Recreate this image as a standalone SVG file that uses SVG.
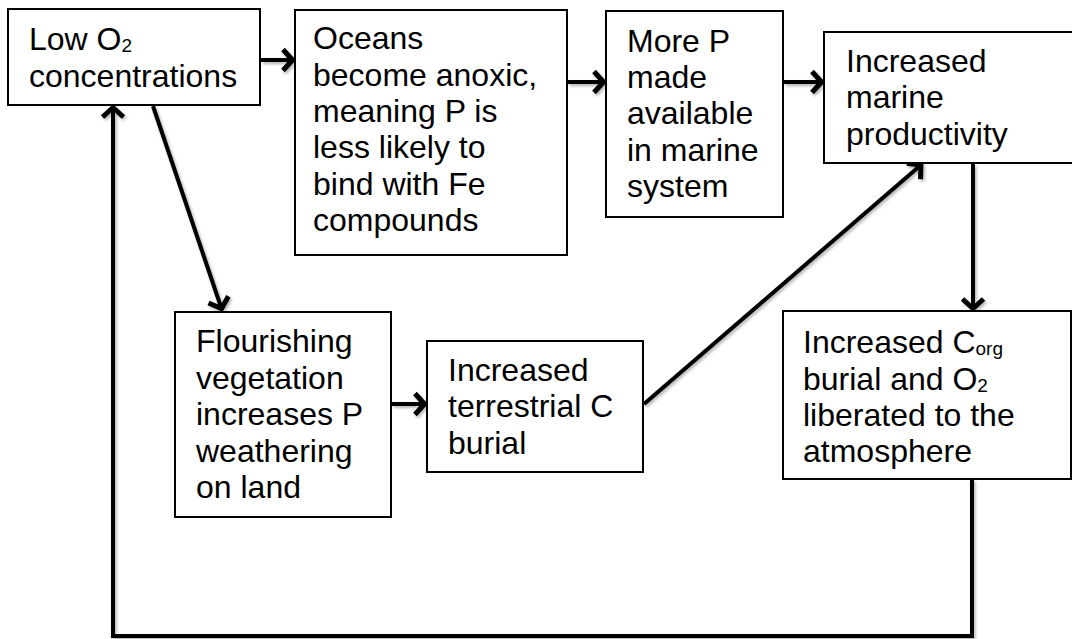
<svg xmlns="http://www.w3.org/2000/svg" width="1072" height="639" viewBox="0 0 1072 639">
<style>
.box{fill:#fff;stroke:#000;stroke-width:2}
.t{font-family:"Liberation Sans",Arial,sans-serif;font-size:32px;fill:#000}
.sub{font-size:19px}
.c{fill:none;stroke:#000;stroke-width:4;marker-end:url(#ah)}
</style>
<defs>
<filter id="sh" filterUnits="userSpaceOnUse" x="0" y="0" width="1072" height="639">
<feDropShadow dx="1.5" dy="2" stdDeviation="1.5" flood-color="#000" flood-opacity="0.3"/>
</filter>
<marker id="ah" markerUnits="userSpaceOnUse" viewBox="-16 -16 32 32" refX="0" refY="0" markerWidth="32" markerHeight="32" orient="auto" overflow="visible">
<path d="M-11,-10.5 L-1.5,0 L-11,10.5" fill="none" stroke="#000" stroke-width="5" stroke-linejoin="miter"/>
</marker>
</defs>
<rect width="1072" height="639" fill="#fff"/>
<g id="connectors" filter="url(#sh)">
<line class="c" x1="261" y1="60" x2="294" y2="60"/>
<line class="c" x1="568" y1="82" x2="605" y2="82"/>
<line class="c" x1="784" y1="82" x2="823" y2="82"/>
<line class="c" x1="973" y1="164" x2="973" y2="310"/>
<line class="c" x1="153" y1="106" x2="222" y2="310"/>
<line class="c" x1="392" y1="404" x2="426" y2="404"/>
<line class="c" x1="644" y1="404" x2="922" y2="164"/>
<path class="c" d="M972,480 L972,636 L113,636 L113,106"/>
</g>
<g id="n1"><rect class="box" x="8" y="9" width="252" height="96"/>
<text class="t" x="29" y="50">Low O<tspan class="sub" dy="2">2</tspan></text>
<text class="t" x="29" y="87">concentrations</text></g>
<g id="n2"><rect class="box" x="295" y="10" width="272" height="245"/>
<text class="t" x="313"><tspan x="313" y="49">Oceans</tspan><tspan x="313" y="86">become anoxic,</tspan><tspan x="313" y="122">meaning P is</tspan><tspan x="313" y="158">less likely to</tspan><tspan x="313" y="195">bind with Fe</tspan><tspan x="313" y="231">compounds</tspan></text></g>
<g id="n3"><rect class="box" x="606" y="11" width="177" height="206"/>
<text class="t"><tspan x="627" y="52">More P</tspan><tspan x="627" y="88">made</tspan><tspan x="627" y="124">available</tspan><tspan x="627" y="161">in marine</tspan><tspan x="627" y="197">system</tspan></text></g>
<g id="n4"><rect class="box" x="824" y="32" width="255" height="131"/>
<text class="t"><tspan x="846" y="72">Increased</tspan><tspan x="846" y="108">marine</tspan><tspan x="846" y="145">productivity</tspan></text></g>
<g id="n5"><rect class="box" x="175" y="312" width="216" height="205"/>
<text class="t"><tspan x="196" y="352">Flourishing</tspan><tspan x="196" y="389">vegetation</tspan><tspan x="196" y="425">increases P</tspan><tspan x="196" y="462">weathering</tspan><tspan x="196" y="498">on land</tspan></text></g>
<g id="n6"><rect class="box" x="427" y="341" width="216" height="131"/>
<text class="t"><tspan x="448" y="381">Increased</tspan><tspan x="448" y="417">terrestrial C</tspan><tspan x="448" y="454">burial</tspan></text></g>
<g id="n7"><rect class="box" x="783" y="311" width="288" height="168"/>
<text class="t" x="803" y="353">Increased C<tspan class="sub" dy="2">org</tspan></text>
<text class="t" x="803" y="390">burial and O<tspan class="sub" dy="2">2</tspan></text>
<text class="t" x="803" y="426">liberated to the</text>
<text class="t" x="803" y="462">atmosphere</text></g>
</svg>
